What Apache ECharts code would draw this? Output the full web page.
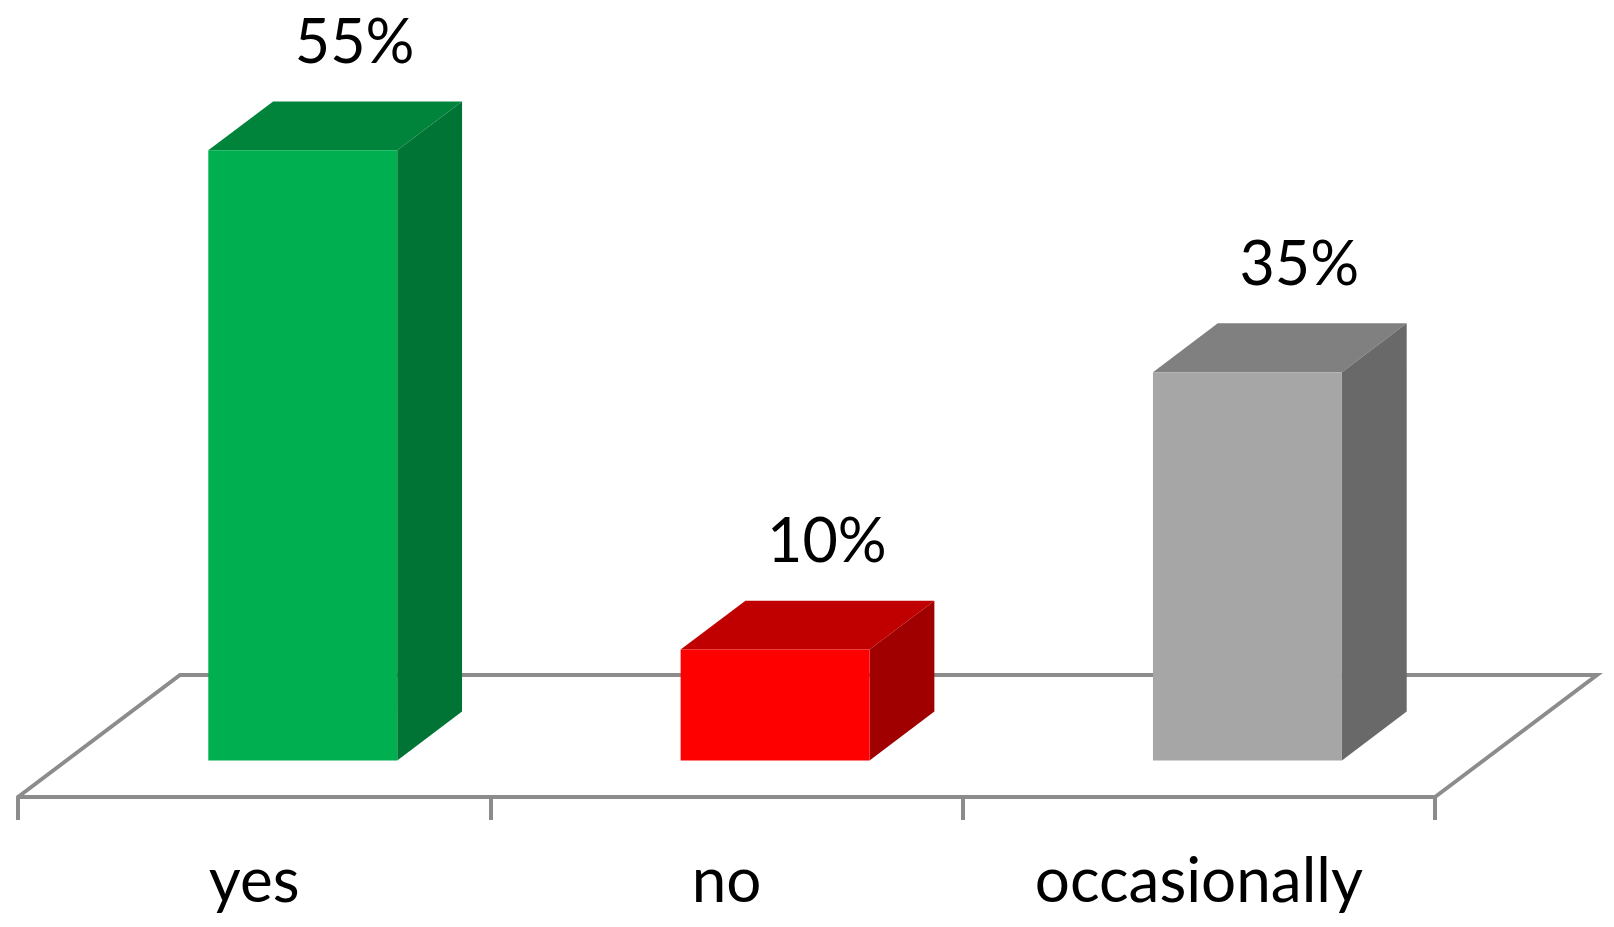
<!DOCTYPE html>
<html>
<head>
<meta charset="utf-8">
<script src="https://cdn.jsdelivr.net/npm/echarts@6/dist/echarts.min.js"></script>
<style>
  html, body { margin: 0; padding: 0; background: #fff; }
  #chart { width: 1614px; height: 927px; }
</style>
</head>
<body>
<div id="chart"></div>
<script>
const categories = ['yes', 'no', 'occasionally'];
const values = [55, 10, 35];

// front / top / side shade for each bar
const faceColors = [
  ['#00B050', '#00843C', '#007434'],
  ['#FF0000', '#C00000', '#A00000'],
  ['#A6A6A6', '#808080', '#696969']
];
const DX = 162, DY = 122;   // depth of the floor on screen
const Z0 = 0.3, Z1 = 0.7;   // bars sit in the middle of the floor depth
const BAR_W = 0.4;          // share of the category width
const FONT = 'Lato, "Open Sans", sans-serif';
const LINE = '#8c8c8c';

let chart = echarts.init(document.getElementById('chart'));

let renderFloor = (params, api) => {
  let cs = params.coordSys;
  let x0 = cs.x, x1 = cs.x + cs.width, y = cs.y + cs.height;
  return {
    type: 'polyline',
    shape: {points: [[x0, y], [x0 + DX, y - DY], [x1 + DX, y - DY], [x1, y]]},
    style: {stroke: LINE, lineWidth: 4, fill: null, lineJoin: 'miter'},
    silent: true
  };
};

let renderBar = (params, api) => {
  let i = api.value(0);
  let base = api.coord([i, 0]);
  let top = api.coord([i, api.value(1)]);
  let w = api.size([1, 0])[0] * BAR_W;
  let c = faceColors[params.dataIndex];
  let fx0 = base[0] - w / 2 + Z0 * DX, fx1 = fx0 + w;
  let fyB = base[1] - Z0 * DY, fyT = top[1] - Z0 * DY;
  let ddx = (Z1 - Z0) * DX, ddy = (Z1 - Z0) * DY;
  return {
    type: 'group',
    children: [
      {
        type: 'polygon',
        shape: {points: [[fx0, fyT], [fx1, fyT], [fx1 + ddx, fyT - ddy], [fx0 + ddx, fyT - ddy]]},
        style: {fill: c[1]}
      },
      {
        type: 'polygon',
        shape: {points: [[fx1, fyT], [fx1 + ddx, fyT - ddy], [fx1 + ddx, fyB - ddy], [fx1, fyB]]},
        style: {fill: c[2]}
      },
      {
        type: 'rect',
        shape: {x: fx0, y: fyT, width: w, height: fyB - fyT},
        style: {fill: c[0]}
      },
      {
        type: 'text',
        x: base[0] + 0.62 * DX,
        y: fyT - ddy - 28,
        style: {
          text: api.value(1) + '%',
          font: '61px ' + FONT,
          fill: '#000',
          align: 'center',
          verticalAlign: 'bottom'
        }
      }
    ]
  };
};

const option = {
  animation: false,
  grid: {left: 18, right: 179, top: 76, bottom: 130},
  xAxis: {
    type: 'category',
    data: categories,
    axisLine: {lineStyle: {color: LINE, width: 4}},
    axisTick: {show: true, length: 23, lineStyle: {color: LINE, width: 4}},
    axisLabel: {fontSize: 62, fontFamily: FONT, color: '#000', margin: 54},
    splitLine: {show: false}
  },
  yAxis: {
    type: 'value',
    min: 0,
    max: 65,
    show: false
  },
  series: [
    {
      type: 'custom',
      renderItem: renderFloor,
      data: [[0, 0]],
      z: 1
    },
    {
      type: 'custom',
      renderItem: renderBar,
      data: values.map((v, i) => [i, v]),
      z: 3
    }
  ]
};

chart.setOption(option);
</script>
</body>
</html>
